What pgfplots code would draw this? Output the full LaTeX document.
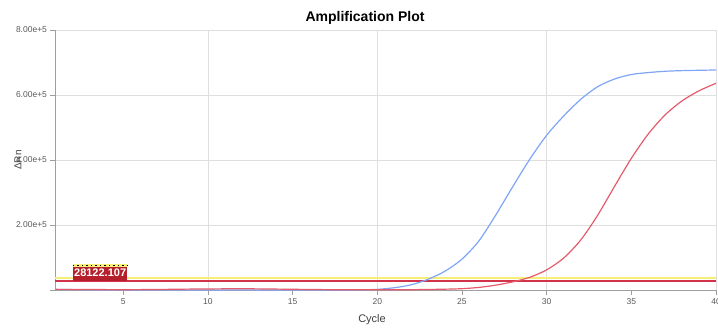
\documentclass[border=0pt]{standalone}
\usepackage{fontspec}
\setmainfont{Liberation Sans}
\usepackage{pgfplots}
\usepackage{pgfplotstable}
\pgfplotsset{compat=1.18}
\definecolor{cblue}{HTML}{7FA5F7}
\definecolor{cred}{HTML}{E55B6C}
\definecolor{thrY}{HTML}{F5EE78}
\definecolor{thrR}{HTML}{D23348}
\definecolor{boxR}{HTML}{B51F2B}
\pgfplotstableread{
cycle blue red
1 1500 2000
2 1200 1800
3 900 1500
4 600 1200
5 300 1000
6 100 1200
7 0 1600
8 0 2200
9 0 2800
10 0 3200
11 0 3600
12 0 3800
13 0 3400
14 0 2800
15 0 2200
16 0 1600
17 0 1100
18 0 800
19 500 600
20 2000 500
21 7000 700
22 16000 1000
23 33000 1600
24 58000 2500
25 95000 4000
26 151000 8000
27 231000 15000
28 318000 25000
29 402000 39000
30 476000 62000
31 535000 98000
32 586000 153000
33 625000 229000
34 649000 318000
35 663000 405000
36 669000 480000
37 673000 539000
38 675000 582000
39 676000 613000
40 677000 636000
}\amp
\begin{document}
\begin{tikzpicture}[x=1pt,y=1pt]
\useasboundingbox (0,0) rectangle (718,328);
\begin{axis}[
  at={(55.5pt,38pt)}, anchor=south west,
  scale only axis, width=660.5pt, height=260pt,
  xmin=1, xmax=40, ymin=0, ymax=800000,
  axis x line=bottom, axis y line=left,
  axis line style={-, draw=gray!75, line width=0.8pt},
  xtick={10,20,30,40}, extra x ticks={5,15,25,35},
  extra x tick style={grid=none},
  ytick={0,200000,400000,600000,800000},
  yticklabels={,2.00e+5,4.00e+5,6.00e+5,8.00e+5},
  scaled y ticks=false,
  xmajorgrids, ymajorgrids,
  grid style={draw=gray!25, line width=0.8pt},
  tick align=outside, major tick length=5pt,
  tick style={draw=gray!75, line width=0.6pt},
  tick label style={font=\fontsize{8.5}{10}\selectfont, text=black!65},
  /pgf/number format/assume math mode=true,
  clip=false,
]
\addplot[thrY, line width=2.2pt] coordinates {(1,36000) (40,36000)};
\addplot[thrR, line width=1.2pt] coordinates {(1,27700) (40,27700)};
\addplot[cblue, line width=1.2pt, smooth, tension=0.5] table[x=cycle, y=blue] {\amp};
\addplot[cred, line width=1.2pt, smooth, tension=0.5] table[x=cycle, y=red] {\amp};
\node[fill=boxR, text=white, font=\bfseries\fontsize{11}{12}\selectfont,
      anchor=south west, inner sep=0pt, minimum width=54pt, minimum height=16pt]
      (lbl) at (axis cs:2.03,28000) {28122.107};
\draw[thrY, line width=2.5pt] ([yshift=-1.25pt]lbl.north west) -- ([yshift=-1.25pt]lbl.north east);
\draw[black, line width=1.5pt, dash pattern=on 1.5pt off 3pt] ([yshift=-1.25pt]lbl.north west) -- ([yshift=-1.25pt]lbl.north east);
\end{axis}
\node[font=\bfseries\fontsize{14}{16}\selectfont, anchor=base] at (365,306) {Amplification Plot};
\node[font=\fontsize{11}{13}\selectfont, text=black!75, anchor=base] at (372,5) {Cycle};
\node[font=\fontsize{10}{12}\selectfont, text=black!75, rotate=90] at (18,168) {ΔRn};
\end{tikzpicture}
\end{document}
